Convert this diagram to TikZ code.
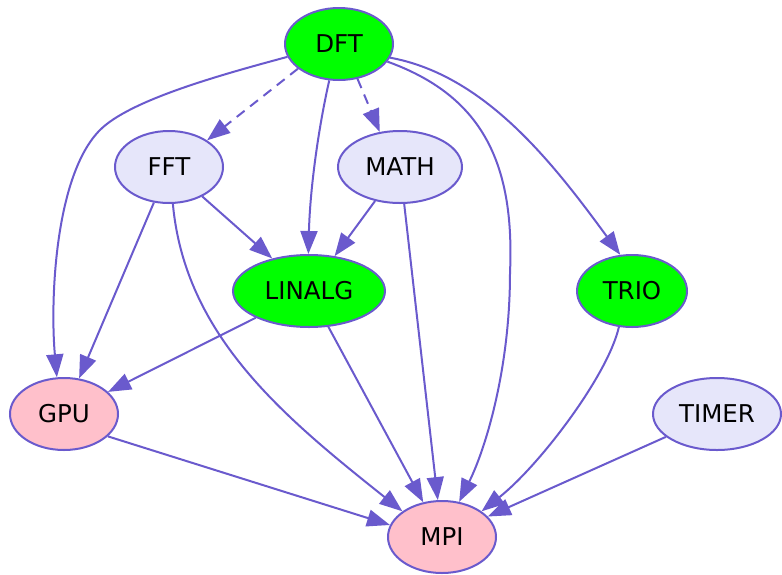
\documentclass[tikz,border=0pt]{standalone}
\usepackage{fontspec}
\setmainfont{DejaVu Sans}
\usetikzlibrary{shapes.geometric, arrows.meta}
\definecolor{slateblue}{HTML}{6A5ACD}
\definecolor{lavender}{HTML}{E6E6FA}
\definecolor{pinkfill}{HTML}{FFC0CB}
\definecolor{limefill}{HTML}{00FF00}

\begin{document}
\begin{tikzpicture}[
  x=1pt, y=-1pt,
  mod/.style={ellipse, draw=slateblue, line width=2pt, inner sep=0pt, minimum width=108pt, minimum height=72pt, font=\fontsize{24.5}{28}\selectfont},
  core/.style={mod, fill=limefill},
  aux/.style={mod, fill=lavender},
  hw/.style={mod, fill=pinkfill},
  arrow/.style={-{Triangle[length=23pt, width=17pt]}, line width=2pt, draw=slateblue},
  dasharrow/.style={arrow, dash pattern=on 10pt off 7pt}
]
  \useasboundingbox (0,0) rectangle (782,574);

  \node[core] (DFT) at (339,44) {DFT};
  \node[aux] (FFT) at (169,167) {FFT};
  \node[aux, minimum width=124pt] (MATH) at (400,167) {MATH};
  \node[core, minimum width=152pt] (LINALG) at (309,291) {LINALG};
  \node[core, minimum width=110pt] (TRIO) at (632,291) {TRIO};
  \node[hw] (GPU) at (64,414) {GPU};
  \node[aux, minimum width=128pt] (TIMER) at (717,414) {TIMER};
  \node[hw] (MPI) at (442,537) {MPI};

  % from DFT
  \draw[dasharrow] (DFT.-149) -- (FFT.35);
  \draw[dasharrow] (DFT.-62) -- (MATH.120);
  \draw[arrow] (DFT.-105) .. controls (318,130) and (310,190) .. (LINALG.91);
  \draw[arrow] (DFT.194) .. controls (220,75) and (130,100) .. (100,130)
    .. controls (55,175) and (50,300) .. (GPU.101);
  \draw[arrow] (DFT.-20) .. controls (480,95) and (515,160) .. (510,273)
    .. controls (510,370) and (485,450) .. (MPI.64);
  \draw[arrow] (DFT.-15) .. controls (485,75) and (553,163) .. (TRIO.108);

  % second row
  \draw[arrow] (FFT) -- (LINALG);
  \draw[arrow] (FFT) -- (GPU);
  \draw[arrow] (FFT.-84) .. controls (185,336) and (284,417) .. (MPI.147);
  \draw[arrow] (MATH) -- (LINALG);
  \draw[arrow] (MATH) -- (MPI);

  % lower rows
  \draw[arrow] (LINALG) -- (GPU);
  \draw[arrow] (LINALG) -- (MPI);
  \draw[arrow] (TRIO.-110) .. controls (608,375) and (540,465) .. (MPI.33);
  \draw[arrow] (TIMER) -- (MPI);
  \draw[arrow] (GPU.-27) -- (MPI.167);
\end{tikzpicture}
\end{document}
